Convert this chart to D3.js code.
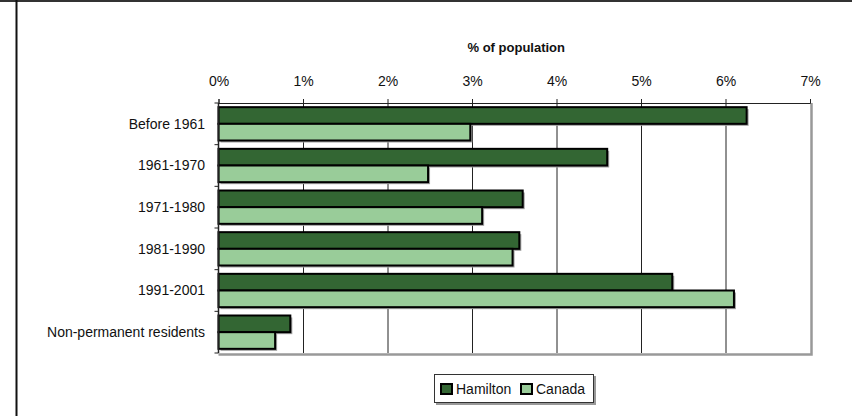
<!DOCTYPE html>
<html>
<head>
<meta charset="utf-8">
<script src="https://cdn.jsdelivr.net/npm/d3@7"></script>
<style>
  html, body { margin: 0; padding: 0; background: #fff; }
  svg { display: block; }
  text { font-family: "Liberation Sans Narrow", "Arial Narrow", "Liberation Sans", Arial, sans-serif; }
</style>
</head>
<body>
<svg id="chart" width="852" height="416"></svg>
<script>
// Immigrant population by period of immigration, share of total population
const categories = ["Before 1961", "1961-1970", "1971-1980", "1981-1990", "1991-2001", "Non-permanent residents"];
const seriesNames = ["Hamilton", "Canada"];
const hamilton = [6.25, 4.60, 3.60, 3.56, 5.37, 0.85];
const canada = [2.98, 2.48, 3.12, 3.48, 6.10, 0.67];
const colors = ["#336633", "#99CC99"];
const tickValues = [0, 1, 2, 3, 4, 5, 6, 7];
const axisTitle = "% of population";

const svg = d3.select("#chart");
const plot = { left: 218.5, right: 810, top: 103, bottom: 353 };

// outer frame (top and left rules)
svg.append("line").attr("x1", 0).attr("x2", 852).attr("y1", 1).attr("y2", 1)
  .attr("stroke", "#333").attr("stroke-width", 2);
svg.append("line").attr("x1", 16.5).attr("x2", 16.5).attr("y1", 0).attr("y2", 416)
  .attr("stroke", "#111").attr("stroke-width", 2);

const x = d3.scaleLinear().domain([0, 7]).range([plot.left, plot.right]);
const y = d3.scaleBand().domain(categories).range([plot.top, plot.bottom]).paddingInner(0.2).paddingOuter(0.1);
const ySub = d3.scaleBand().domain(seriesNames).range([0, y.bandwidth()]);

// plot frame shadow (right / bottom)
svg.append("path")
  .attr("d", `M${plot.right + 1.5},${plot.top} V${plot.bottom + 1.5} H${plot.left}`)
  .attr("fill", "none").attr("stroke", "#999").attr("stroke-width", 2.5);

// vertical gridlines
svg.append("g").selectAll("line").data(tickValues.slice(1, -1)).join("line")
  .attr("x1", d => x(d) + 0.5).attr("x2", d => x(d) + 0.5)
  .attr("y1", plot.top).attr("y2", plot.bottom)
  .attr("stroke", "#222").attr("stroke-width", 1);

// top axis
const xAxis = d3.axisTop(x).tickValues(tickValues).tickFormat(d => d + "%").tickSize(4).tickPadding(13);
const gx = svg.append("g").attr("transform", `translate(0,${plot.top})`).call(xAxis);
gx.select(".domain").attr("stroke", "#222");
gx.selectAll(".tick line").attr("stroke", "#222");
gx.selectAll(".tick text").attr("font-size", 14).attr("fill", "#111")
  .attr("font-family", null);

svg.append("text").attr("x", (plot.left + plot.right) / 2 + 2).attr("y", 52)
  .attr("text-anchor", "middle").attr("font-size", 13).attr("font-weight", "bold")
  .attr("fill", "#111").text(axisTitle);

// left axis: category separators
const bounds = categories.map(c => y(c) - y.step() * y.paddingInner() / 2).concat([plot.bottom]);
svg.append("g").selectAll("line").data(bounds).join("line")
  .attr("x1", plot.left - 4).attr("x2", plot.left)
  .attr("y1", d => d).attr("y2", d => d)
  .attr("stroke", "#222").attr("stroke-width", 1);

const rows = categories.map((c, i) => ({ c, vals: [hamilton[i], canada[i]] }));
const groups = svg.append("g").selectAll("g").data(rows).join("g")
  .attr("transform", d => `translate(0,${y(d.c)})`);

// bar shadows
groups.selectAll("rect.shadow").data(d => d.vals.map((v, j) => ({ v, s: seriesNames[j], j }))).join("rect")
  .attr("class", "shadow")
  .attr("x", x(0) + 2).attr("y", d => ySub(d.s) + 2)
  .attr("width", d => x(d.v) - x(0)).attr("height", ySub.bandwidth())
  .attr("fill", "#a0a0a0");

// bars
groups.selectAll("rect.bar").data(d => d.vals.map((v, j) => ({ v, s: seriesNames[j], j }))).join("rect")
  .attr("class", "bar")
  .attr("x", x(0)).attr("y", d => ySub(d.s))
  .attr("width", d => x(d.v) - x(0)).attr("height", ySub.bandwidth())
  .attr("fill", d => colors[d.j]).attr("stroke", "#000").attr("stroke-width", 2);

// left axis line
svg.append("line").attr("x1", plot.left).attr("x2", plot.left)
  .attr("y1", plot.top).attr("y2", plot.bottom).attr("stroke", "#222").attr("stroke-width", 1.5);

// category labels
svg.append("g").selectAll("text").data(categories).join("text")
  .attr("x", 205).attr("y", d => y(d) + y.bandwidth() / 2)
  .attr("dy", "0.35em").attr("text-anchor", "end")
  .attr("font-size", 14).attr("fill", "#111").text(d => d);

// legend
const lg = svg.append("g").attr("transform", "translate(434,374)");
lg.append("rect").attr("x", 2).attr("y", 2).attr("width", 160).attr("height", 29).attr("fill", "#999");
lg.append("rect").attr("x", 0.5).attr("y", 0.5).attr("width", 159).attr("height", 28)
  .attr("fill", "#fff").attr("stroke", "#333").attr("stroke-width", 1);
const legendX = [7, 87];
seriesNames.forEach((s, j) => {
  lg.append("rect").attr("x", legendX[j]).attr("y", 10).attr("width", 11).attr("height", 10)
    .attr("fill", colors[j]).attr("stroke", "#000").attr("stroke-width", 2);
  lg.append("text").attr("x", legendX[j] + 15).attr("y", 15).attr("dy", "0.35em")
    .attr("font-size", 14).attr("fill", "#111").text(s);
});
</script>
</body>
</html>
